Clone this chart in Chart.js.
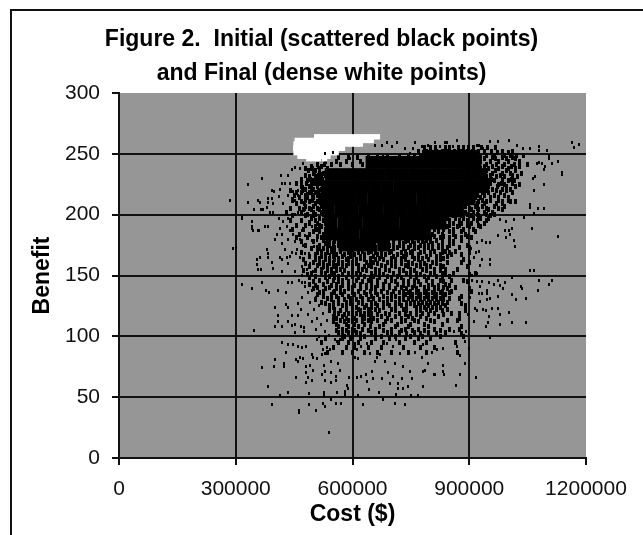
<!DOCTYPE html>
<html lang="en">
<head>
<meta charset="UTF-8" />
<title>Figure 2</title>
<script src="https://cdn.jsdelivr.net/npm/chart.js"></script>
<style>
  body { margin: 0; background: white; }
  #frame { position: absolute; left: 10px; top: 9px; width: 633px; height: 526px; border-top: 2px solid #111; border-left: 2px solid #111; box-sizing: border-box; }
  canvas { position: absolute; left: 0; top: 0; }
</style>
</head>
<body>
<div id="frame"></div>
<canvas id="chart" width="643" height="535"></canvas>
<script>
const titleLines = ['Figure 2.  Initial (scattered black points)', 'and Final (dense white points)'];
const costTicks = [0, 300000, 600000, 900000, 1200000];
const benefitTicks = [0, 50, 100, 150, 200, 250, 300];

// all cost values below are in $ thousands
// rows are [benefit, [costs]]
const finalRows = [
  [264, [508,520,532,544,556,568,580,592,604,616,628,640,652,664]],
  [261, [458,470,482,494,506,518,530,542,554,566,578,590,602,614,626,638,648]],
  [258, [455,467,479,491,503,515,527,539,551,563,575,587,599,611,620]],
  [254.5, [454,466,478,490,502,514,526,538,550,562,574]],
  [251, [455,467,479,491,503,515,527,539,551,558]],
  [248, [465,477,489,501,513,525,537]],
  [246, [488,500,512,528]]
];

// the middle of the cloud is solid black, single points can't be read there
const coreRows = [
  [248, [795,825,855,885,905]],
  [243, [650,680,712,741,770,802,833,862,888,915]],
  [233, [545,575,606,638,668,700,731,762,793,824,855,884,905,930]],
  [223, [535,566,597,628,659,690,722,753,784,815,846,877,905,935]],
  [213, [530,560,592,623,655,686,717,748,780,811,842,870,900]],
  [203, [538,570,600,632,663,695,726,757,789,820,845,870]],
  [193, [545,578,610,642,673,705,737,768,795,825]],
  [184, [545,570,602,634,665,697,725,755,785]],
  [175, [580,612,645,680]]
];

const denseRows = [
  [255, [785,800,812,838,850,872,885,899,912,931,948,968]],
  [252, [770,790,815,830,845,862,880,895,908,925,940,958,985,1012]],
  [249, [760,775,805,825,870,905,920,945,965,990,1005,1022,1040]],
  [247, [565,590,612,640,665,690,722,745,790,850,885,930,960,985,1010]],
  [244, [530,560,585,620,650,680,700,730,930,955,975,1000,1030]],
  [241, [510,528,545,570,600,625,905,925,945,970,990,1015,1050]],
  [238, [480,498,515,535,910,930,950,975,1000,1020]],
  [234, [500,515,525,925,940,960,985,1005,1035]],
  [231, [490,505,520,925,945,970,990,1025]],
  [228, [485,500,515,930,950,965,1000,1015]],
  [225, [470,495,510,525,925,945,975,990,1030]],
  [221, [480,500,520,925,940,960,985,1005]],
  [218, [455,470,490,505,915,935,950,980,1010]],
  [214, [465,485,500,515,895,915,930,955,975,1000]],
  [211, [470,490,510,880,905,925,945,985,1005,1020]],
  [207, [480,500,520,870,890,915,935,965,990]],
  [204, [475,495,515,860,880,905,925,950,985]],
  [200, [485,505,525,850,870,895,920,945,965]],
  [197, [495,515,530,845,865,885,910,930,950]],
  [193, [490,510,530,810,835,860,880,905,940]],
  [190, [505,520,535,800,820,845,870,900,930]],
  [186, [500,515,540,555,745,770,795,820,850,880,915]],
  [182, [510,530,550,735,760,785,810,835,865,895]],
  [179, [525,540,565,590,610,640,665,690,720,745,770,790,815,850,880]],
  [176, [530,550,575,600,630,650,680,705,730,760,785,805,830,860]],
  [173, [510,535,555,585,610,635,660,690,715,745,770,795,820,845,875,900]],
  [170, [520,545,570,595,625,650,675,700,735,755,785,810,840,865]],
  [167, [505,530,560,580,605,630,665,685,715,740,770,800,825,855,880]],
  [164, [515,540,565,590,620,645,670,700,725,760,780,815,835]],
  [161, [500,525,550,575,600,635,655,690,710,745,775,805,845,880,900]],
  [158, [510,535,560,585,615,640,675,700,735,765,790,825]],
  [155, [520,545,570,600,625,660,685,720,750,780,810,840,870]],
  [152, [495,530,555,590,610,650,670,705,740,765,800,830,860,915]],
  [149, [505,540,565,600,630,655,690,715,750,785,815,850]],
  [146, [515,550,575,610,640,665,700,730,760,790,825,855,885]],
  [143, [490,525,560,590,620,650,680,715,745,775,805,840]],
  [140, [510,540,570,600,635,660,695,725,755,785,810,835,865]],
  [137, [525,555,580,615,645,675,705,730,750,770,790,810,830,855,905]],
  [134, [510,545,575,605,635,665,700,735,755,775,795,815,840]],
  [131, [535,565,595,625,655,690,720,745,765,785,805,825,850,875]],
  [128, [520,550,585,615,650,680,710,740,760,780,800,820,845]],
  [125, [540,575,600,635,665,695,725,760,775,795,815,840,890]],
  [122, [555,585,615,640,660,700,730,765,790,815,845]],
  [119, [565,590,610,630,650,685,720,750,780,810,855,875]],
  [116, [550,575,600,625,645,675,710,745,775,820]],
  [113, [570,590,610,640,665,700,735,760,800,845,870]],
  [110, [560,585,605,630,680,715,750,785,830]],
  [106, [575,600,625,660,700,735,770,810,850,875]],
  [103, [565,590,610,650,690,720,760,795,840]],
  [100, [580,600,630,675,710,750,780,825,885]]
];
const denseRowsB = [
  [251, [800,822,855,878,905,938,972,1000]],
  [246, [905,940,968,995,1018]],
  [240, [495,520,920,938,960,985,1008,1030]],
  [236, [488,505,535,918,945,968,995,1020]],
  [232, [478,512,530,935,955,980,1012]],
  [229, [470,492,508,522,940,958,985,1008]],
  [226, [455,482,502,518,932,955,982,1010]],
  [223, [468,490,510,935,950,972,995,1020]],
  [220, [440,472,495,512,930,945,970,995]],
  [216, [450,478,496,510,922,940,965,990]],
  [212, [445,480,498,515,910,935,955,975,1000]],
  [209, [455,476,505,522,895,920,940,970,985]],
  [205, [440,465,490,510,875,900,920,945,975]],
  [202, [430,470,500,520,865,890,912,938,960]],
  [199, [445,480,500,530,860,880,905,925,955]],
  [195, [440,470,505,525,850,875,895,920,945]],
  [191, [455,480,515,540,825,850,875,895,925]],
  [188, [445,475,510,530,810,835,860,885,910]],
  [184, [465,490,525,545,750,780,805,830,860,890]],
  [181, [455,485,520,545,565,740,770,800,825,850,880,905]],
  [178, [470,500,535,555,580,600,625,650,680,705,735,755,780,800,830,860]],
  [175, [480,515,540,565,590,615,640,670,695,720,750,775,795,820,850,895]],
  [172, [495,525,545,575,600,625,650,680,705,730,760,785,805,830]],
  [169, [470,510,535,555,590,615,640,660,695,725,750,775,800,830,850,900]],
  [166, [490,520,550,575,595,620,655,675,705,730,755,790,815,845]],
  [163, [475,505,530,555,585,610,630,660,680,710,735,770,795,825,885]],
  [160, [480,515,540,565,590,610,645,665,700,725,755,785,815]],
  [157, [490,525,550,575,600,630,650,685,710,745,775,800,835,895]],
  [154, [475,505,535,560,580,615,635,670,695,730,760,790,825]],
  [151, [485,520,545,575,600,620,660,680,720,750,775,810,840,900]],
  [148, [490,530,555,585,615,645,670,700,725,765,795,830]],
  [145, [500,535,565,590,625,650,685,710,745,770,805,835,895]],
  [142, [505,545,575,605,635,665,695,730,760,795,820,850]],
  [139, [500,530,560,590,620,650,680,710,740,765,795,820,845,900]],
  [136, [515,550,570,600,630,660,690,720,745,765,785,805,825,850]],
  [133, [525,560,590,620,650,680,710,730,750,770,790,810,830,880]],
  [130, [505,545,580,610,640,670,700,730,755,775,795,815,835]],
  [127, [530,565,595,625,660,690,720,750,770,790,810,830,880]],
  [124, [550,585,610,630,650,680,710,740,765,785,805,825]],
  [121, [540,570,600,620,645,670,710,740,775,800,830,890]],
  [118, [555,580,600,620,640,665,695,735,765,795,835]],
  [115, [560,585,605,630,655,690,725,755,790,875]],
  [112, [550,580,600,625,650,685,725,770,810]],
  [108, [565,590,615,645,670,710,745,795,880]],
  [105, [560,585,605,640,680,725,755,785,825]],
  [102, [575,600,620,660,700,740,775,815,880]],
  [98, [530,575,595,620,660,695,735,770,800]],
  [95, [520,565,590,615,650,680,720,760,790,865]],
  [91, [550,585,605,640,675,730,775,810]],
  [87, [535,575,600,630,665,700,745,790,870]]
];

// isolated points around the cloud: [cost, benefit]
const sparseRight = [
  [1163,259],[1168,255],[1183,258],[1080,256],[1080,253],[1099,253],[1106,249],[1106,246],[1127,244],[1112,242],
  [1138,235],[1138,233],[1092,237],[1073,242],[1079,243],[1086,242],[1095,240],[1092,225],[1067,220],[1063,230],
  [1069,231],[1056,208],[1056,206],[1076,205],[1092,205],[1066,201],[1041,198],[1061,189],[1127,182],[1018,174],
  [1015,179],[1001,187],[1009,189],[1015,196],[995,194],[979,196],[992,187],[975,183],[994,181],[1005,184],
  [954,177],[943,177],[932,179],[919,177],[954,163],[954,159],[932,163],[928,158],[918,169],[1055,154],
  [1066,154],[1080,146],[1112,146],[1106,143],[1076,138],[1032,141],[1035,139],[1009,148],[1009,134],[1020,130],
  [1046,131],[1046,111],[1009,111],[979,110],[1001,120],[979,118],[973,123],[973,133],[958,123],[954,131],
  [945,130],[928,129],[915,123],[919,121],[936,122],[942,121],[951,116],[947,111],[943,108],[911,112],
  [954,99],[992,144],[988,139],[975,146],[979,142],[964,143],[951,144],[945,138],[945,135],[932,135],
  [924,135],[928,141],[919,145],[932,145],[906,146],[838,259],[868,261],[954,260],[975,260],[1001,261],
  [926,257],[936,254],[1022,257],[1039,254],[1055,254],[905,172],[912,165],[908,150],[902,132],[898,118],
  [892,104],[920,152],[926,170]
];
const sparseLeft = [
  [285,212],[300,173],[293,172],[316,198],[342,194],[342,190],[345,187],[360,187],[375,190],[332,225],
  [367,230],[416,232],[434,232],[444,237],[452,239],[474,242],[464,238],[332,210],[358,212],[362,210],
  [347,204],[364,204],[371,204],[384,213],[384,210],[394,213],[394,220],[399,219],[418,226],[427,226],
  [414,221],[440,226],[435,216],[448,219],[461,220],[461,216],[452,212],[444,213],[422,209],[410,215],
  [397,209],[380,206],[388,202],[397,202],[317,197],[341,189],[358,187],[384,190],[410,197],[422,194],
  [435,197],[452,200],[461,202],[478,209],[487,212],[478,204],[474,223],[495,223],[482,217],[495,216],
  [470,228],[491,237],[504,235],[512,239],[521,234],[487,232],[512,230],[414,189],[405,184],[418,184],
  [401,180],[418,176],[431,190],[439,187],[448,184],[457,190],[470,187],[435,180],[452,178],[465,180],
  [478,183],[474,175],[457,171],[444,169],[427,171],[380,171],[384,165],[362,165],[414,165],[431,165],
  [465,165],[487,168],[487,194],[495,190],[504,187],[517,189],[525,182],[538,194],[508,179],[495,179],
  [500,174],[517,171],[534,176],[354,163],[354,159],[366,155],[384,168],[392,161],[418,163],[396,156],
  [418,153],[439,166],[435,160],[452,153],[469,157],[478,168],[491,160],[456,168],[358,155],[499,153],
  [516,163],[525,156],[542,167],[482,155],[316,143],[342,139],[367,144],[377,138],[386,136],[408,138],
  [428,136],[435,144],[445,144],[469,144],[478,144],[402,124],[428,126],[433,124],[408,117],[459,127],
  [467,122],[461,117],[444,117],[408,112],[402,108],[418,108],[433,112],[444,109],[452,110],[467,108],
  [475,107],[347,105],[452,103],[475,104],[470,150],[462,146],[478,141],[486,136],[470,132],[490,128],
  [500,122],[485,118],[510,115],[495,112],[520,110],[505,106],[530,104],[515,100],[540,101],[488,148],
  [495,138],[505,132],[515,125],[525,119],[535,113]
];
const sparseBottom = [
  [418,95],[435,93],[448,93],[459,92],[469,91],[480,92],[428,87],[465,83],[455,81],[459,79],
  [474,82],[402,81],[398,75],[367,74],[424,78],[424,75],[491,76],[499,83],[495,85],[510,82],
  [528,76],[545,79],[563,78],[529,71],[546,70],[568,72],[480,75],[480,70],[486,66],[499,72],
  [521,69],[454,66],[480,62],[495,64],[529,64],[545,62],[557,67],[557,64],[592,66],[585,60],
  [589,57],[382,59],[433,54],[413,51],[488,53],[528,54],[528,51],[561,54],[582,55],[581,52],
  [392,44],[488,44],[463,39],[463,37],[505,39],[525,45],[529,42],[546,48],[557,45],[570,45],
  [540,21],[628,44],[679,48],[709,45],[735,44],[612,66],[623,67],[635,69],[649,71],[652,65],
  [636,63],[642,56],[615,51],[668,54],[713,52],[675,65],[692,70],[705,67],[696,61],[718,61],
  [726,65],[731,75],[718,57],[729,57],[748,71],[752,65],[743,59],[750,51],[769,51],[780,71],
  [786,72],[780,59],[812,69],[833,71],[525,89],[534,91],[542,89],[529,86],[521,85],[555,97],
  [561,96],[568,97],[508,97],[606,94],[611,89],[606,83],[615,82],[598,86],[623,92],[636,94],
  [645,86],[662,83],[671,85],[658,79],[683,79],[688,94],[705,92],[713,97],[722,86],[709,78],
  [761,94],[782,93],[803,87],[816,89],[833,90],[833,76],[795,78],[778,83],[761,87],[917,66],
  [866,60],[877,69],[836,69],[810,69],[868,92],[890,96],[875,84],[888,78],[860,104],[900,90]
];
const sparseTop = [
  [529,250],[550,251],[658,257],[675,257],[688,259],[701,256],[714,259],[735,254],[761,259],[778,256],
  [795,257],[812,259],[825,256],[842,259],[868,261],[859,256],[885,254],[898,253],[919,257],[594,246],
  [611,246],[636,246],[662,246],[679,248],[705,245],[722,249],[748,250],[756,254],[782,256]
];

function fromRows(rows) {
  return rows.flatMap(([benefit, costs]) => costs.map(c => ({ x: c * 1000, y: benefit })));
}
function fromPairs(pairs) {
  return pairs.map(([c, benefit]) => ({ x: c * 1000, y: benefit }));
}
// the original marks are small upright dashes
function dash(w, h) {
  const c = document.createElement('canvas');
  c.width = w;
  c.height = h;
  const g = c.getContext('2d');
  g.fillStyle = '#000';
  g.fillRect(0, 0, w, h);
  return c;
}

const plotBackground = {
  id: 'plotBackground',
  beforeDraw(chart) {
    const { ctx, chartArea: a } = chart;
    ctx.fillStyle = '#969696';
    ctx.fillRect(a.left, a.top, a.width, a.height);
  },
  // title is centred on the whole picture, not on the padded part
  afterLayout(chart) {
    chart.titleBlock.left = 0;
    chart.titleBlock.right = chart.width;
  }
};

new Chart(document.getElementById('chart'), {
  type: 'scatter',
  data: {
    datasets: [
      { data: fromPairs([...sparseRight, ...sparseLeft, ...sparseBottom, ...sparseTop]), pointStyle: dash(2, 3), pointRadius: 2, order: 0 },
      { data: fromRows(finalRows), pointStyle: 'rect', pointRadius: 3.8, backgroundColor: '#fff', borderWidth: 0, order: 1 },
      { data: fromRows([...denseRows, ...denseRowsB]), pointStyle: dash(3, 5), pointRadius: 2, order: 2 },
      { data: fromRows(coreRows), pointStyle: 'rect', pointRadius: 9, backgroundColor: '#000', borderWidth: 0, order: 3 }
    ]
  },
  options: {
    responsive: false,
    animation: false,
    layout: { padding: { left: 0, right: 57, top: 0, bottom: 0 } },
    plugins: {
      legend: { display: false },
      tooltip: { enabled: false },
      title: {
        display: true,
        text: titleLines,
        color: '#000',
        font: { family: 'Liberation Sans', size: 23, weight: 'bold', lineHeight: 1.5 },
        padding: { top: 22, bottom: 2 }
      }
    },
    scales: {
      x: {
        type: 'linear',
        min: 0,
        max: 1200000,
        afterBuildTicks: s => { s.ticks = costTicks.map(value => ({ value })); },
        afterFit: s => { s.height = 77; },
        grid: {
          color: c => c.tick && c.tick.value === 1200000 ? 'transparent' : '#111',
          tickColor: '#111',
          lineWidth: 2,
          tickLength: 7
        },
        border: { color: '#111', width: 2 },
        ticks: { color: '#111', font: { family: 'Liberation Sans', size: 21 }, padding: 12, maxRotation: 0, autoSkip: false, callback: v => String(v) },
        title: { display: true, text: 'Cost ($)', color: '#000', font: { family: 'Liberation Sans', size: 23, weight: 'bold' }, padding: { top: 0, bottom: 7 } }
      },
      y: {
        type: 'linear',
        min: 0,
        max: 300,
        afterBuildTicks: s => { s.ticks = benefitTicks.map(value => ({ value })); },
        afterFit: s => { s.width = 119; },
        grid: {
          color: c => c.tick && c.tick.value === 300 ? 'transparent' : '#111',
          tickColor: '#111',
          lineWidth: 2,
          tickLength: 7
        },
        border: { color: '#111', width: 2 },
        ticks: { color: '#111', font: { family: 'Liberation Sans', size: 21 }, padding: 12, autoSkip: false },
        title: { display: true, text: 'Benefit', color: '#000', font: { family: 'Liberation Sans', size: 23, weight: 'bold' }, padding: { top: 29, bottom: 0 } }
      }
    }
  },
  plugins: [plotBackground]
});
</script>
</body>
</html>
